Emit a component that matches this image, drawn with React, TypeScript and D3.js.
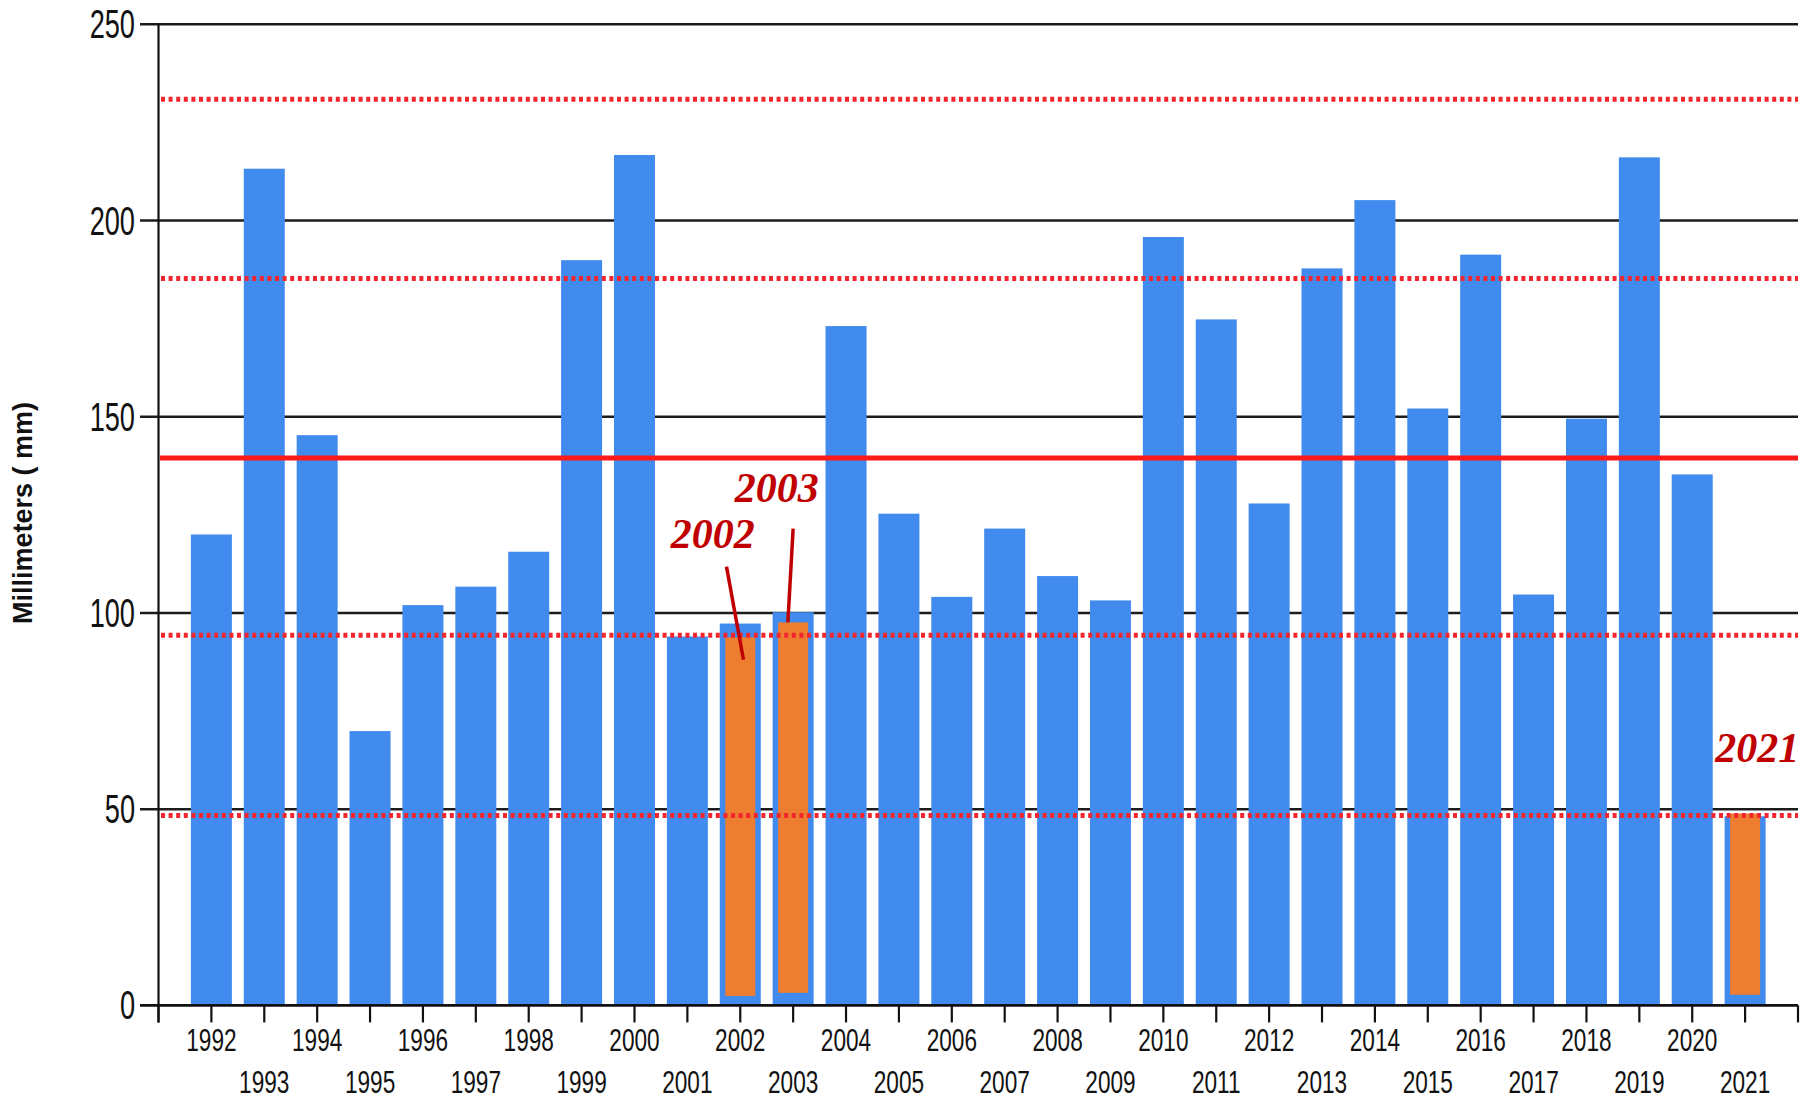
import React from "react";
import * as d3 from "d3";

const years = [1992, 1993, 1994, 1995, 1996, 1997, 1998, 1999, 2000, 2001, 2002, 2003, 2004, 2005, 2006, 2007, 2008, 2009, 2010, 2011, 2012, 2013, 2014, 2015, 2016, 2017, 2018, 2019, 2020, 2021];
const rainfall = [120.0, 213.2, 145.3, 69.9, 102.0, 106.7, 115.6, 189.9, 216.7, 94.0, 97.3, 100.2, 173.1, 125.3, 104.1, 121.5, 109.4, 103.2, 195.8, 174.8, 127.9, 187.8, 205.2, 152.1, 191.3, 104.7, 149.5, 216.1, 135.3, 48.2];

const highlightYears = [2002, 2003, 2021];
const highlightTop = [93.8, 97.6, 48.9];
const highlightBase = [2.4, 3.2, 2.7];

const meanValue = 139.5;
const dottedValues = [230.9, 185.2, 94.3, 48.4];
const yTicks = [0, 50, 100, 150, 200, 250];
const xTickYears = [1991, 1992, 1993, 1994, 1995, 1996, 1997, 1998, 1999, 2000, 2001, 2002, 2003, 2004, 2005, 2006, 2007, 2008, 2009, 2010, 2011, 2012, 2013, 2014, 2015, 2016, 2017, 2018, 2019, 2020, 2021, 2022];

const annotations = [
  { label: "2002", tx: 2001.48, ty: 116.5, x1: 2001.74, y1: 111.8, x2: 2002.06, y2: 88.1 },
  { label: "2003", tx: 2002.69, ty: 128.3, x1: 2003.0, y1: 121.5, x2: 2002.9, y2: 97.6 },
  { label: "2021", tx: 2021.23, ty: 61.9 },
];

const yAxisTitle = "Millimeters ( mm)";

export default function App() {
  const W = 1814, H = 1100;
  const x = d3.scaleLinear().domain([1991, 2022]).range([158.5, 1798]);
  const y = d3.scaleLinear().domain([0, 250]).range([1005.4, 24.3]);
  const barW = 41;
  const hiW = 30;
  const tickFont = "'Liberation Sans', Arial, sans-serif";

  return (
    <svg width={W} height={H} style={{ position: "absolute", left: 0, top: 0, background: "#fff" }}>
      {/* gridlines */}
      {yTicks.filter((t) => t > 0).map((t) => (
        <line key={"g" + t} x1={140} x2={1798} y1={y(t)} y2={y(t)} stroke="#1c1c1c" strokeWidth={2.6} />
      ))}
      {/* bars */}
      {years.map((yr, i) => (
        <rect key={"b" + yr} x={x(yr) - barW / 2} y={y(rainfall[i])} width={barW} height={y(0) - y(rainfall[i])} fill="#418bee" />
      ))}
      {highlightYears.map((yr, i) => (
        <rect key={"h" + yr} x={x(yr) - hiW / 2} y={y(highlightTop[i])} width={hiW} height={y(highlightBase[i]) - y(highlightTop[i])} fill="#ed7d31" />
      ))}
      {/* reference lines */}
      {dottedValues.map((v) => (
        <line key={"d" + v} x1={161} x2={1798} y1={y(v)} y2={y(v)} stroke="#f2262c" strokeWidth={5} strokeDasharray="4 3.6" />
      ))}
      <line x1={160} x2={1798} y1={y(meanValue)} y2={y(meanValue)} stroke="#ff1a1a" strokeWidth={5} />
      {/* axes */}
      <line x1={x(1991)} x2={x(1991)} y1={y(250)} y2={y(0) + 17} stroke="#111" strokeWidth={2.2} />
      <line x1={140} x2={1798} y1={y(0)} y2={y(0)} stroke="#111" strokeWidth={2.6} />
      {xTickYears.map((yr) => (
        <line key={"t" + yr} x1={x(yr)} x2={x(yr)} y1={y(0)} y2={y(0) + 17} stroke="#111" strokeWidth={2.2} />
      ))}
      {yTicks.map((t) => (
        <text key={"yl" + t} transform={`translate(135,${y(t) + 14}) scale(0.68,1)`} textAnchor="end" fontFamily={tickFont} fontSize={40} fill="#111">
          {t}
        </text>
      ))}
      {years.map((yr, i) => (
        <text key={"xl" + yr} transform={`translate(${x(yr)},${i % 2 === 0 ? 1051 : 1093}) scale(0.73,1)`} textAnchor="middle" fontFamily={tickFont} fontSize={31} fill="#111">
          {yr}
        </text>
      ))}
      <text transform={`translate(32,513) rotate(-90)`} textAnchor="middle" fontFamily={tickFont} fontWeight="bold" fontSize={27} fill="#111">
        {yAxisTitle}
      </text>
      {/* annotations */}
      {annotations.map((a) => (
        <g key={"a" + a.label}>
          {a.x1 !== undefined && (
            <line x1={x(a.x1)} y1={y(a.y1!)} x2={x(a.x2!)} y2={y(a.y2!)} stroke="#c00000" strokeWidth={3.5} />
          )}
          <text x={x(a.tx)} y={y(a.ty)} textAnchor="middle" fontFamily="'Liberation Serif', 'Times New Roman', serif" fontWeight="bold" fontStyle="italic" fontSize={42} fill="#c00000">
            {a.label}
          </text>
        </g>
      ))}
    </svg>
  );
}
